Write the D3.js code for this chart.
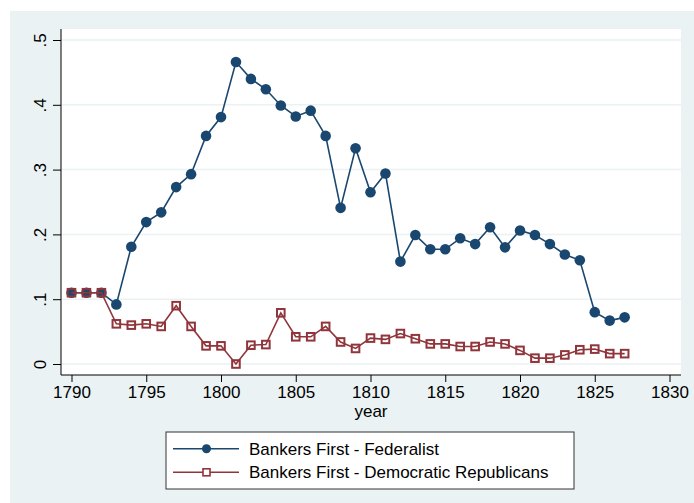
<!DOCTYPE html>
<html>
<head>
<meta charset="utf-8">
<script src="https://cdn.jsdelivr.net/npm/d3@7/dist/d3.min.js"></script>
<style>
  body { margin: 0; background: #fff; }
  text { font-family: "Liberation Sans", Arial, sans-serif; fill: #000; }
</style>
</head>
<body>
<div id="chart"></div>
<script>
const years = d3.range(1790, 1828)
const federalist = [0.110, 0.110, 0.110, 0.092, 0.181, 0.219, 0.234, 0.273, 0.293, 0.352,
  0.381, 0.466, 0.440, 0.424, 0.399, 0.382, 0.391, 0.352, 0.241, 0.333,
  0.265, 0.294, 0.158, 0.199, 0.177, 0.177, 0.194, 0.185, 0.211, 0.180,
  0.206, 0.199, 0.185, 0.169, 0.160, 0.080, 0.067, 0.072]
const demRep = [0.110, 0.110, 0.110, 0.062, 0.060, 0.062, 0.058, 0.090, 0.058, 0.028,
  0.028, 0.000, 0.029, 0.030, 0.079, 0.042, 0.042, 0.058, 0.034, 0.024,
  0.040, 0.038, 0.047, 0.039, 0.031, 0.031, 0.027, 0.027, 0.034, 0.031,
  0.021, 0.009, 0.009, 0.014, 0.022, 0.023, 0.016, 0.016]
const xTicks = [1790, 1795, 1800, 1805, 1810, 1815, 1820, 1825, 1830]
const yTicks = [0, 0.1, 0.2, 0.3, 0.4, 0.5]
const yTickLabels = ["0", ".1", ".2", ".3", ".4", ".5"]
const seriesNames = ["Bankers First - Federalist", "Bankers First - Democratic Republicans"]

const navy = "#1a476f", maroon = "#90353b", bg = "#eaf2f3"
const W = 694, H = 503

const svg = d3.select("#chart").append("svg")
  .attr("width", W).attr("height", H)

// graph region
svg.append("rect").attr("x", 10).attr("y", 11)
  .attr("width", W - 10).attr("height", H - 11).attr("fill", bg)

// plot region
const plot = { left: 61, right: 681, top: 29, bottom: 375 }
svg.append("rect").attr("x", plot.left).attr("y", plot.top)
  .attr("width", plot.right - plot.left).attr("height", plot.bottom - plot.top)
  .attr("fill", "#fff")

const x = d3.scaleLinear().domain([1790, 1830]).range([71.5, 669.5])
const y = d3.scaleLinear().domain([0, 0.5]).range([364, 40])

// gridlines
svg.append("g").selectAll("line").data(yTicks).enter().append("line")
  .attr("x1", plot.left).attr("x2", plot.right)
  .attr("y1", d => y(d)).attr("y2", d => y(d))
  .attr("stroke", bg).attr("stroke-width", 1.5)

// x axis
const xAxis = svg.append("g")
  .attr("transform", "translate(0," + plot.bottom + ")")
  .call(d3.axisBottom(x).tickValues(xTicks).tickFormat(d3.format("d")).tickSize(7).tickPadding(4).tickSizeOuter(0))
xAxis.select(".domain").attr("d", "M" + plot.left + ",0H" + plot.right).attr("stroke", "#000")
xAxis.selectAll("text").style("font-size", "17px").attr("fill", "#000")

// y axis
const yAxis = svg.append("g")
  .attr("transform", "translate(" + plot.left + ",0)")
  .call(d3.axisLeft(y).tickValues(yTicks).tickFormat((d, i) => yTickLabels[i]).tickSize(8).tickSizeOuter(0))
yAxis.select(".domain").attr("d", "M0," + plot.top + "V" + plot.bottom).attr("stroke", "#000")
yAxis.selectAll("text")
  .style("font-size", "17px").attr("fill", "#000")
  .attr("x", null).attr("dy", null)
  .attr("text-anchor", "middle")
  .attr("transform", "translate(-21,0) rotate(-90)")
  .attr("y", 0).attr("dy", "0.35em")

svg.append("text").attr("x", (plot.left + plot.right) / 2).attr("y", 417)
  .attr("text-anchor", "middle").style("font-size", "17px").text("year")

const line = d3.line().x((d, i) => x(years[i])).y(d => y(d))

// federalist
svg.append("path").datum(federalist).attr("d", line)
  .attr("fill", "none").attr("stroke", navy).attr("stroke-width", 1.6)
svg.append("g").selectAll("circle").data(federalist).enter().append("circle")
  .attr("cx", (d, i) => x(years[i])).attr("cy", d => y(d))
  .attr("r", 5.3).attr("fill", navy)

// democratic republicans
svg.append("path").datum(demRep).attr("d", line)
  .attr("fill", "none").attr("stroke", maroon).attr("stroke-width", 1.6)
svg.append("g").selectAll("rect").data(demRep).enter().append("rect")
  .attr("x", (d, i) => x(years[i]) - 3.8).attr("y", d => y(d) - 3.8)
  .attr("width", 7.6).attr("height", 7.6)
  .attr("fill", "none").attr("stroke", maroon).attr("stroke-width", 2)

// legend
const leg = svg.append("g")
leg.append("rect").attr("x", 166).attr("y", 432).attr("width", 408).attr("height", 57)
  .attr("fill", "#fff").attr("stroke", "#333").attr("stroke-width", 1)
const legRows = [448.7, 472.3]
legRows.forEach((ly, i) => {
  const col = i === 0 ? navy : maroon
  leg.append("line").attr("x1", 173).attr("x2", 239).attr("y1", ly).attr("y2", ly)
    .attr("stroke", col).attr("stroke-width", 1.6)
  if (i === 0) {
    leg.append("circle").attr("cx", 206.5).attr("cy", ly).attr("r", 4.5).attr("fill", col)
  } else {
    leg.append("rect").attr("x", 203).attr("y", ly - 3.5).attr("width", 7).attr("height", 7)
      .attr("fill", "#fff").attr("stroke", col).attr("stroke-width", 1.6)
  }
  leg.append("text").attr("x", 249).attr("y", ly).attr("dy", "0.35em")
    .style("font-size", "17px").text(seriesNames[i])
})
</script>
</body>
</html>
